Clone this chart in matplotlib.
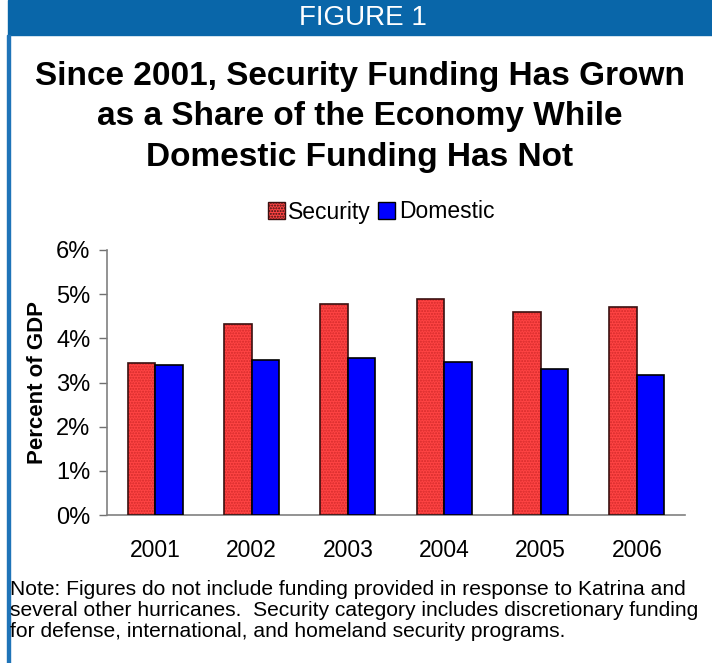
import numpy as np
import matplotlib
matplotlib.use('Agg')
import matplotlib.pyplot as plt
from matplotlib.patches import Rectangle, Patch

plt.rcParams['font.family'] = ['Liberation Sans', 'DejaVu Sans']

# data (percent of GDP)
years = ['2001', '2002', '2003', '2004', '2005', '2006']
security = [3.45, 4.32, 4.78, 4.90, 4.60, 4.70]
domestic = [3.39, 3.52, 3.56, 3.46, 3.30, 3.18]
y_ticks = [0, 1, 2, 3, 4, 5, 6]

W, H = 712, 663
fig = plt.figure(figsize=(W / 100, H / 100), dpi=100, facecolor='white')

def fx(x):
    return x / W

def fy(y):
    return 1 - y / H

# header band and left border
blue_hdr = '#0966a9'
fig.patches.append(Rectangle((fx(8), fy(35)), 1 - fx(8), 35 / H,
                             transform=fig.transFigure, color=blue_hdr, zorder=0))
fig.patches.append(Rectangle((fx(7), 0), 2.5 / W, fy(35),
                             transform=fig.transFigure, color='#1f74b8', zorder=0))
fig.text(fx(363), fy(18), 'FIGURE 1', color='white', fontsize=20,
         ha='center', va='center')

title = ('Since 2001, Security Funding Has Grown\n'
         'as a Share of the Economy While\n'
         'Domestic Funding Has Not')
fig.text(fx(360), fy(117), title, fontsize=24, fontweight='bold',
         ha='center', va='center', linespacing=1.38)

# plot area
ax = fig.add_axes([fx(107), fy(515), 578 / W, 265 / H])
x = np.arange(len(years))
bw = 0.285
red = '#ff4444'
ax.bar(x - bw / 2, security, bw, color=red, edgecolor='#d42a2a',
       hatch='......', linewidth=0, zorder=2)
ax.bar(x - bw / 2, security, bw, fill=False, edgecolor='#3a1010',
       linewidth=1.2, zorder=3)
ax.bar(x + bw / 2, domestic, bw, color='#0000ff', edgecolor='black',
       linewidth=1.2, zorder=3)

ax.set_xlim(-0.5, len(years) - 0.5)
ax.set_ylim(0, 6)
ax.set_yticks(y_ticks)
ax.set_yticklabels([f'{t}%' for t in y_ticks])
ax.set_xticks(x)
ax.set_xticklabels(years)
ax.tick_params(axis='y', direction='out', length=6, width=1, color='#707070',
               labelsize=17, pad=6)
ax.tick_params(axis='x', length=0, labelsize=16.5, pad=17)
for s in ['top', 'right']:
    ax.spines[s].set_visible(False)
for s in ['left', 'bottom']:
    ax.spines[s].set_color('#808080')
    ax.spines[s].set_linewidth(1.2)
ax.set_ylabel('Percent of GDP', fontsize=16, fontweight='bold', labelpad=6)

handles = [Patch(facecolor=red, edgecolor='#3a1010', hatch='......', label='Security'),
           Patch(facecolor='#0000ff', edgecolor='black', label='Domestic')]
fig.legend(handles=handles, loc='center', bbox_to_anchor=(fx(381), fy(212)),
           ncol=2, frameon=False, fontsize=16.5, handlelength=0.75,
           handleheight=0.75, handletextpad=0.15, columnspacing=0.3)

note = ('Note: Figures do not include funding provided in response to Katrina and\n'
        'several other hurricanes.  Security category includes discretionary funding\n'
        'for defense, international, and homeland security programs.')
fig.text(fx(10), fy(580), note, fontsize=15.1, ha='left', va='top',
         linespacing=1.12)

fig.savefig('out.png', dpi=100, facecolor='white')
